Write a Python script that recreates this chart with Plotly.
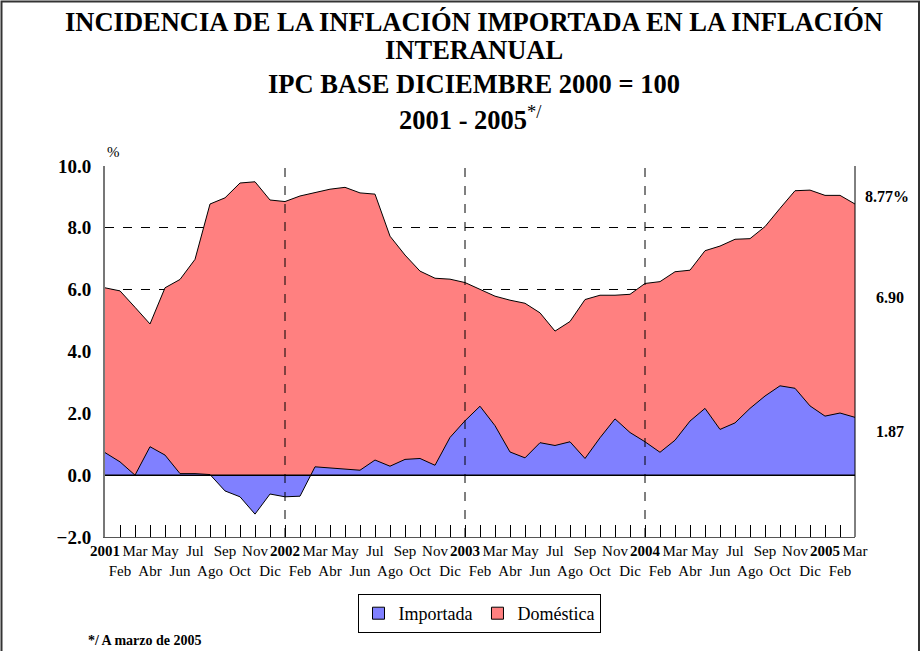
import plotly.graph_objects as go

months = ["Ene", "Feb", "Mar", "Abr", "May", "Jun", "Jul", "Ago", "Sep", "Oct", "Nov", "Dic"]
years = [2001, 2002, 2003, 2004, 2005]

importada = [0.73, 0.43, 0.00, 0.92, 0.65, 0.05, 0.05, 0.02, -0.51, -0.70, -1.26, -0.61,
             -0.70, -0.68, 0.27, 0.23, 0.18, 0.16, 0.49, 0.29, 0.51, 0.54, 0.32, 1.22,
             1.76, 2.23, 1.60, 0.75, 0.56, 1.05, 0.96, 1.08, 0.54, 1.21, 1.82, 1.38,
             1.08, 0.74, 1.13, 1.75, 2.16, 1.48, 1.69, 2.16, 2.56, 2.89, 2.81, 2.24,
             1.91, 2.01, 1.87]
total = [6.06, 5.96, 5.43, 4.89, 6.06, 6.33, 6.98, 8.77, 8.97, 9.45, 9.49, 8.90,
         8.85, 9.03, 9.14, 9.25, 9.31, 9.13, 9.09, 7.73, 7.12, 6.60, 6.37, 6.34,
         6.23, 6.02, 5.79, 5.66, 5.56, 5.25, 4.66, 4.97, 5.68, 5.82, 5.82, 5.85,
         6.20, 6.26, 6.58, 6.63, 7.26, 7.41, 7.63, 7.65, 8.04, 8.63, 9.20, 9.22,
         9.05, 9.05, 8.77]
domestica = [round(t - i, 2) for t, i in zip(total, importada)]

end_labels = ["8.77%", "6.90", "1.87"]
end_label_y = [9.0, 5.75, 1.4]

RED = "#FF8080"
BLUE = "#8080FF"
FONT = "Liberation Serif"

# category labels
x = list(range(len(importada)))
ticktext = []
for k in x:
    y = years[k // 12]
    m = k % 12
    lab = f"<b>{y}</b>" if m == 0 else months[m]
    if k % 2 == 1:
        lab = "<br>" + lab
    ticktext.append(lab)

tot = [i + d for i, d in zip(importada, domestica)]

fig = go.Figure()
fig.add_trace(go.Scatter(
    x=x, y=tot, name="Doméstica", mode="lines", fill="tozeroy",
    line=dict(color="black", width=1), fillcolor=RED, showlegend=False))
fig.add_trace(go.Scatter(
    x=x, y=importada, name="Importada", mode="lines", fill="tozeroy",
    line=dict(color="black", width=1), fillcolor=BLUE, showlegend=False))
# legend swatches
fig.add_trace(go.Bar(x=[None], y=[None], name="Importada", legendrank=1,
                     marker=dict(color=BLUE, line=dict(color="black", width=1))))
fig.add_trace(go.Bar(x=[None], y=[None], name="Doméstica", legendrank=2,
                     marker=dict(color=RED, line=dict(color="black", width=1))))

PW, PH = 750, 371  # plot area size in px
def px_x(px):
    return (px - 105) / PW
def px_y(py):
    return (537 - py) / PH

shapes = []
for k in (12, 24, 36):
    shapes.append(dict(type="line", xref="x", yref="y", x0=k, x1=k, y0=-2, y1=10,
                       line=dict(color="black", width=1, dash="dash"), layer="above"))
shapes.append(dict(type="line", xref="paper", yref="y", x0=0, x1=1, y0=0, y1=0,
                   line=dict(color="black", width=1.5), layer="above"))
shapes.append(dict(type="line", xref="paper", yref="paper", x0=1, x1=1, y0=0, y1=1,
                   line=dict(color="black", width=1), layer="above"))
# outer frame
shapes.append(dict(type="rect", xref="paper", yref="paper",
                   x0=px_x(1.5), x1=px_x(919), y0=px_y(660), y1=px_y(1.5),
                   line=dict(color="#333333", width=2)))

TS = 26.5
annotations = [
    dict(text="<b>INCIDENCIA DE LA INFLACIÓN IMPORTADA EN LA INFLACIÓN</b>",
         xref="paper", yref="paper", x=px_x(474), y=px_y(22),
         xanchor="center", yanchor="middle", showarrow=False,
         font=dict(size=TS, family=FONT, color="black")),
    dict(text="<b>INTERANUAL</b>",
         xref="paper", yref="paper", x=px_x(474), y=px_y(50),
         xanchor="center", yanchor="middle", showarrow=False,
         font=dict(size=TS, family=FONT, color="black")),
    dict(text="<b>IPC BASE DICIEMBRE 2000 = 100</b>",
         xref="paper", yref="paper", x=px_x(474), y=px_y(84),
         xanchor="center", yanchor="middle", showarrow=False,
         font=dict(size=TS, family=FONT, color="black")),
    dict(text="<b>2001 - 2005</b><sup>*/</sup>",
         xref="paper", yref="paper", x=px_x(470), y=px_y(118),
         xanchor="center", yanchor="middle", showarrow=False,
         font=dict(size=TS, family=FONT, color="black")),
    dict(text="%", xref="paper", yref="paper", x=px_x(113), y=px_y(152),
         xanchor="center", yanchor="middle", showarrow=False,
         font=dict(size=15, family=FONT, color="black")),
    dict(text="<b>*/ A marzo de 2005</b>", xref="paper", yref="paper",
         x=px_x(86), y=px_y(640), xanchor="left", yanchor="middle",
         showarrow=False, font=dict(size=14, family=FONT, color="black")),
]
for t, yy in zip(end_labels, end_label_y):
    annotations.append(dict(text=f"<b>{t}</b>", xref="paper", yref="y", x=1, y=yy,
                            xanchor="left", yanchor="middle", xshift=8 if "%" in t else 19,
                            showarrow=False,
                            font=dict(size=16, family=FONT, color="black")))

fig.update_layout(
    width=922, height=651,
    margin=dict(l=105, r=67, t=166, b=114),
    paper_bgcolor="white", plot_bgcolor="white",
    font=dict(family=FONT, color="black"),
    showlegend=True,
    legend=dict(orientation="h", x=px_x(479), y=px_y(594),
                xanchor="center", yanchor="top", bordercolor="black", borderwidth=1,
                font=dict(size=18, family=FONT, color="black"),
                itemwidth=30, tracegroupgap=0),
    xaxis=dict(range=[0, 50], tickmode="array", tickvals=x, ticktext=ticktext,
               tickangle=0, showgrid=False, zeroline=False, showline=True,
               linecolor="#555555", linewidth=1, ticks="inside", ticklen=12,
               tickcolor="black", tickwidth=1,
               tickfont=dict(size=15, family=FONT, color="black")),
    yaxis=dict(range=[-2, 10], dtick=2, tick0=0, tickformat=".1f",
               showgrid=True, gridcolor="black", griddash="dash", gridwidth=1,
               zeroline=False, showline=True, linecolor="#777777", linewidth=2,
               ticks="outside", ticklen=8, tickcolor="rgba(0,0,0,0)",
               tickprefix="<b>", ticksuffix="</b>",
               tickfont=dict(size=19, family=FONT, color="black")),
    shapes=shapes, annotations=annotations,
)

fig.write_html("out.html", config={"displayModeBar": False},
               post_script="document.body.style.margin='0';document.body.style.overflow='hidden';")
